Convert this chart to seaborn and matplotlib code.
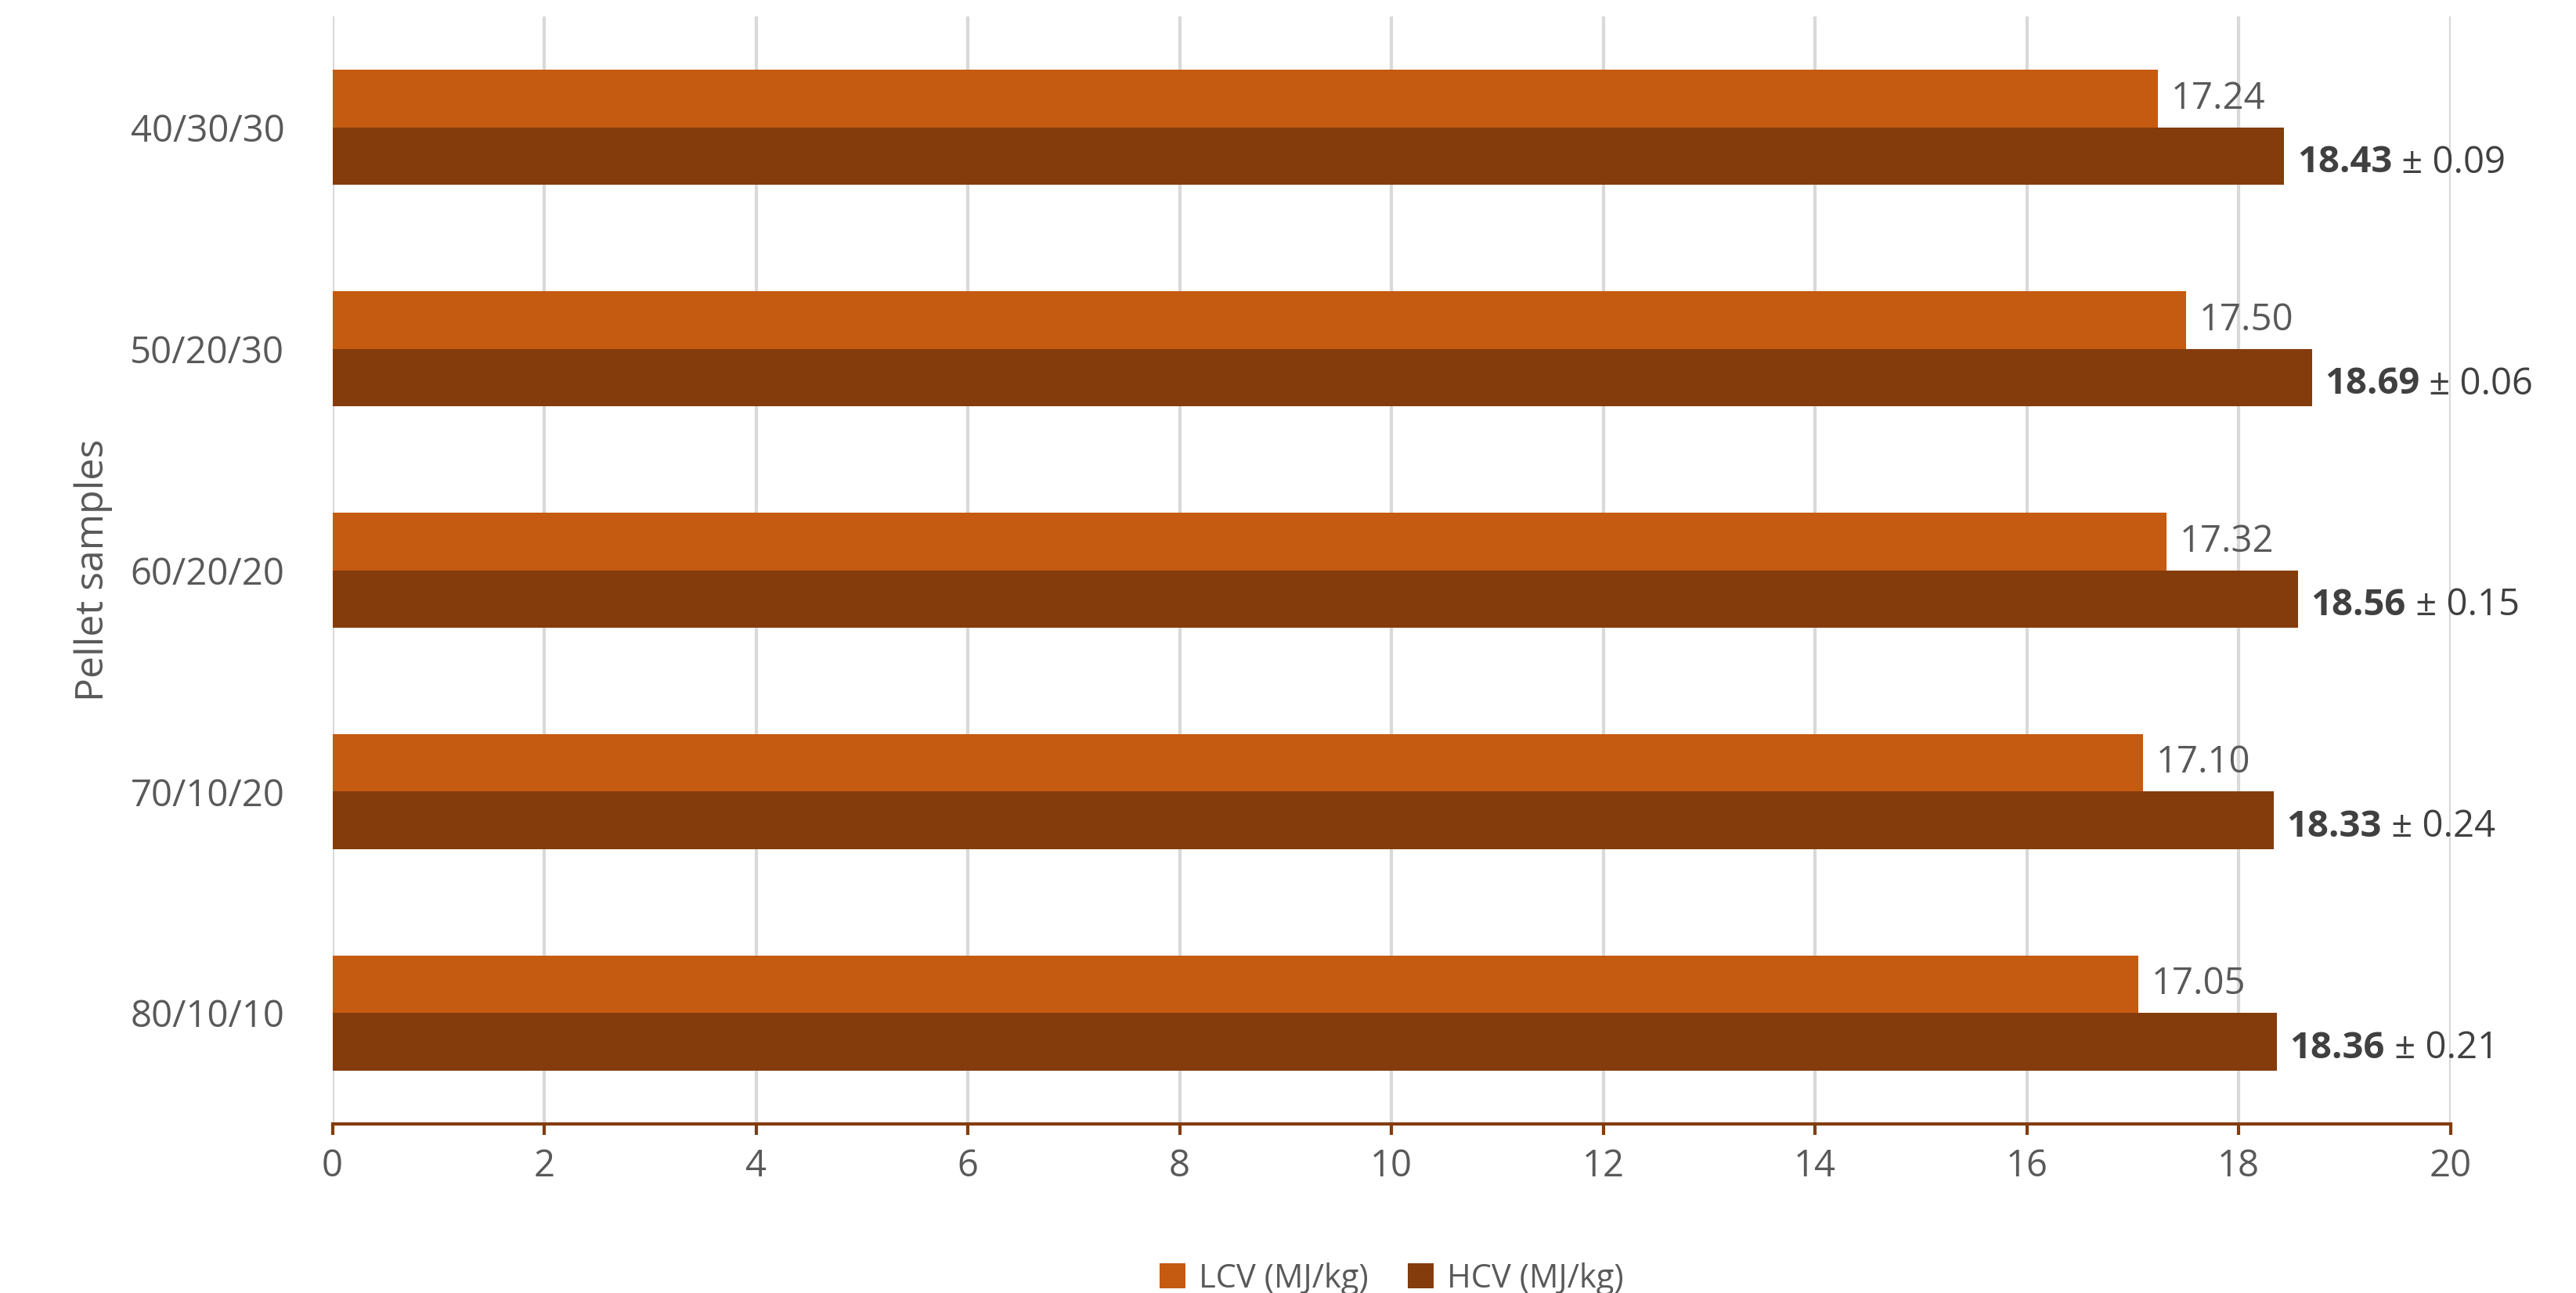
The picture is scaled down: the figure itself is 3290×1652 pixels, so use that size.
import matplotlib
matplotlib.use("Agg")
import matplotlib.pyplot as plt
import seaborn as sns
import pandas as pd

samples = ["40/30/30", "50/20/30", "60/20/20", "70/10/20", "80/10/10"]
lcv = [17.24, 17.50, 17.32, 17.10, 17.05]
hcv = [18.43, 18.69, 18.56, 18.33, 18.36]
hcv_sd = [0.09, 0.06, 0.15, 0.24, 0.21]
series = ["LCV (MJ/kg)", "HCV (MJ/kg)"]
colors = ["#C55A11", "#843C0C"]

df = pd.DataFrame({
    "sample": samples * 2,
    "value": lcv + hcv,
    "series": [series[0]] * 5 + [series[1]] * 5,
})

sns.set_theme(style="white")
plt.rcParams["font.family"] = ["Open Sans", "DejaVu Sans"]
gray = "#595959"

fig = plt.figure(figsize=(16.455, 8.26), dpi=200)
ax = fig.add_axes([0.129, 0.131, 0.822, 0.856])
sns.barplot(data=df, y="sample", x="value", hue="series", order=samples,
            hue_order=series, palette=colors, orient="h", width=0.52,
            saturation=1, linewidth=0, ax=ax, legend=True)

ax.set_xlim(0, 20)
ax.set_xticks(range(0, 21, 2))
ax.xaxis.grid(True, color="#D9D9D9", lw=1.5)
ax.set_axisbelow(True)
for s in ["top", "right", "left"]:
    ax.spines[s].set_visible(False)
ax.spines["bottom"].set_color("#843C0C")
ax.spines["bottom"].set_linewidth(1.5)
ax.tick_params(axis="x", colors=gray, labelsize=17, bottom=True, length=5,
               width=1.5, color="#843C0C", pad=6)
ax.tick_params(axis="y", colors=gray, labelsize=17, left=False, pad=16)
ax.set_xlabel("")
ax.set_ylabel("Pellet samples", color=gray, fontsize=18, labelpad=8)

c0, c1 = ax.containers[0], ax.containers[1]
for bar, v in zip(c0, lcv):
    ax.annotate(f"{v:.2f}", (v, bar.get_y() + bar.get_height() / 2),
                xytext=(6, 0), textcoords="offset points", va="center",
                ha="left", fontsize=17, color=gray)
for bar, v, sd in zip(c1, hcv, hcv_sd):
    t = ax.annotate(f"{v:.2f}", (v, bar.get_y() + bar.get_height() / 2),
                    xytext=(6, -3), textcoords="offset points", va="center",
                    ha="left", fontsize=17, color="#404040", fontweight="bold")
    ax.annotate(f" ± {sd:.2f}", xy=(1, 0.5), xycoords=t, va="center",
                ha="left", fontsize=17, color="#404040")

ax.legend(loc="center", bbox_to_anchor=(0.5, -0.14), ncol=2,
          frameon=False, fontsize=15, labelcolor=gray, handlelength=0.8,
          handleheight=0.8, columnspacing=1.2, handletextpad=0.4)
fig.savefig("out.png", dpi=200)
